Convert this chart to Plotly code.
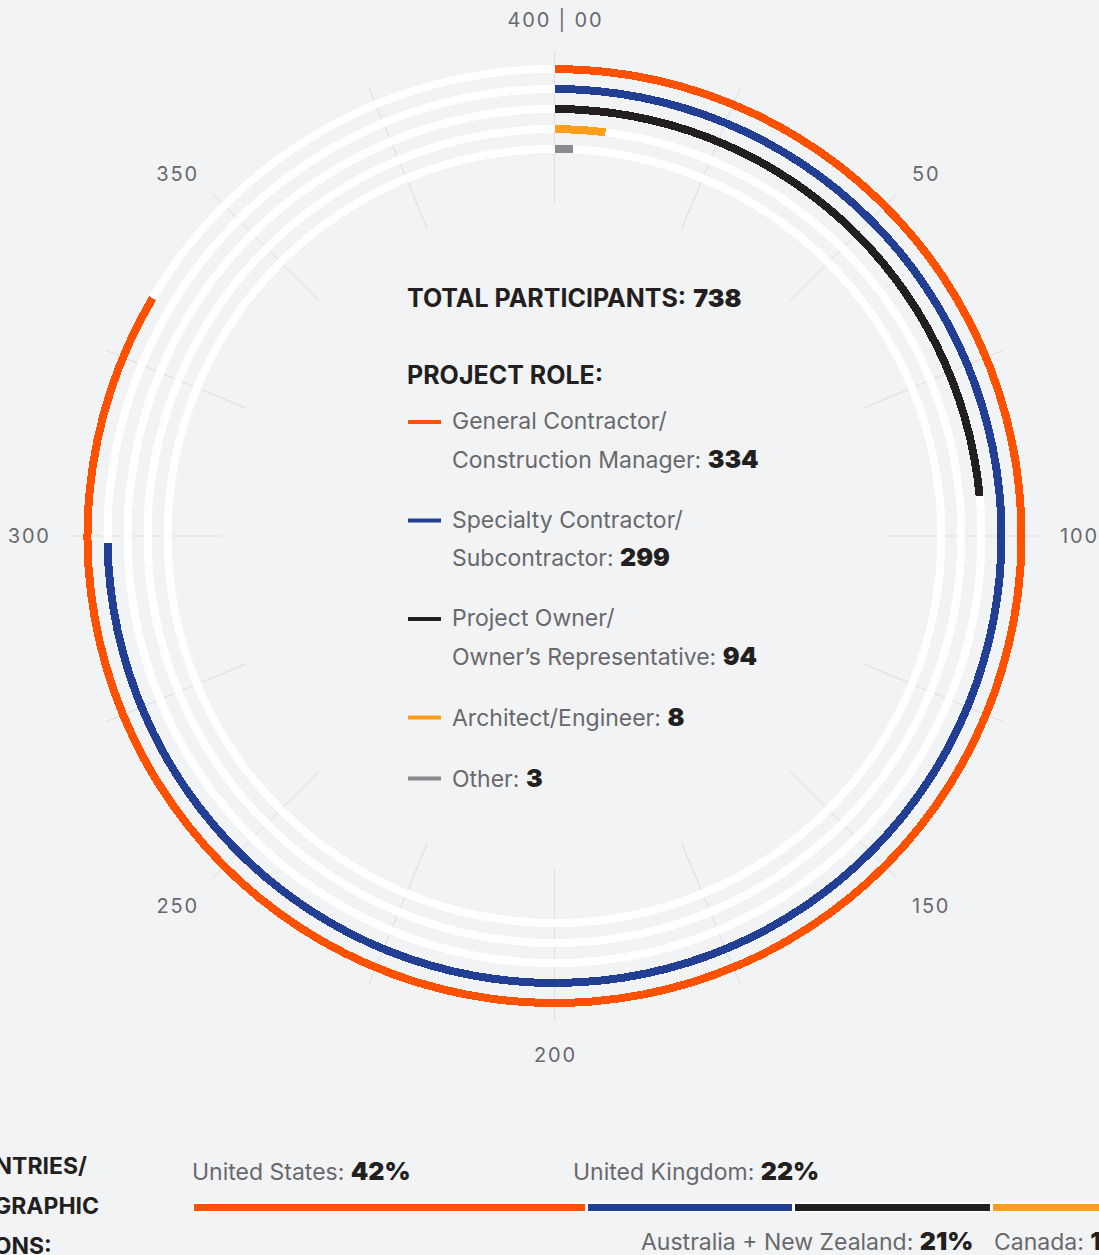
import plotly.graph_objects as go

W, H = 1099, 1255

# ---- data ----
SCALE_MAX = 400
total_participants = 738
role_lines = [
    ["General Contractor/", "Construction Manager"],
    ["Specialty Contractor/", "Subcontractor"],
    ["Project Owner/", "Owner\u2019s Representative"],
    ["Architect/Engineer"],
    ["Other"],
]
role_counts = [334, 299, 94, 8, 3]
role_colors = ["#ff5100", "#223f94", "#231f20", "#ff9e1b", "#898a8d"]

tick_values = list(range(0, 400, 25))
tick_labels = ["400 | 00", "", "50", "", "100", "", "150", "", "200", "", "250", "", "300", "", "350", ""]

countries = ["United States", "United Kingdom", "Australia + New Zealand", "Canada"]
country_shares = [42, 22, 21, 12]
country_colors = ["#ff5100", "#223f94", "#231f20", "#ff9e1b"]

BG = "#f2f3f5"
GREY_TXT = "#68696c"
DARK = "#231f20"
FONT = "Inter, Roboto, sans-serif"
TXT_SIZE = 23
HEAD_SIZE = 25
NUM_SIZE = 25


def px_x(x):
    return x / W


def px_y(y):
    return 1 - y / H


def spaced(s):
    # tracked-out tick labels
    return "\u200a".join(s)


def to_deg(v):
    return v * 360.0 / SCALE_MAX


fig = go.Figure()

# ring geometry (pixels from centre)
R_IN, R_OUT = 333, 485
ring_mid = [467, 447, 427, 407, 387]
BAR_W = 8

# white tracks
fig.add_trace(go.Barpolar(
    r=[BAR_W] * len(ring_mid),
    base=[m - BAR_W / 2 for m in ring_mid],
    theta=[180] * len(ring_mid),
    width=[360] * len(ring_mid),
    marker=dict(color="white", line=dict(width=0)),
    hoverinfo="skip",
    showlegend=False,
))

# role bars
for i, (cnt, col) in enumerate(zip(role_counts, role_colors)):
    d = to_deg(cnt)
    fig.add_trace(go.Barpolar(
        r=[BAR_W],
        base=[ring_mid[i] - BAR_W / 2],
        theta=[d / 2],
        width=[d],
        marker=dict(color=col, line=dict(width=0)),
        name=" ".join(role_lines[i]),
        showlegend=False,
    ))

# countries stacked bar
for name, share, col in zip(countries, country_shares, country_colors):
    fig.add_trace(go.Bar(
        x=[share], y=[0], orientation="h",
        marker=dict(color=col, line=dict(color="white", width=3)),
        width=1, name=name, showlegend=False,
        xaxis="x", yaxis="y",
    ))

PX_PER_PCT = 9.4
bar_x0 = 192

fig.update_layout(
    width=W, height=H,
    margin=dict(l=0, r=0, t=0, b=0),
    paper_bgcolor=BG,
    plot_bgcolor=BG,
    barmode="stack",
    font=dict(family=FONT, color=GREY_TXT),
    polar=dict(
        domain=dict(x=[69.5 / W, 1039.5 / W], y=[px_y(1021), px_y(51)]),
        bgcolor=BG,
        hole=R_IN / R_OUT,
        radialaxis=dict(range=[R_IN, R_OUT], visible=False, showgrid=False),
        angularaxis=dict(
            rotation=90, direction="clockwise",
            tickmode="array",
            tickvals=[to_deg(v) for v in tick_values],
            ticktext=[spaced(t) for t in tick_labels],
            showgrid=True, gridcolor="#dcdde0", gridwidth=1,
            showline=False,
            ticks="outside", ticklen=16, tickcolor="rgba(0,0,0,0)",
            tickfont=dict(size=20, color=GREY_TXT, family=FONT),
        ),
    ),
    xaxis=dict(domain=[px_x(bar_x0), 1], range=[0, (W - bar_x0) / PX_PER_PCT],
               visible=False, fixedrange=True),
    yaxis=dict(domain=[px_y(1212), px_y(1202)], range=[-0.5, 0.5],
               visible=False, fixedrange=True),
)

ann = []


def add_text(x, y, text, size=TXT_SIZE, color=GREY_TXT, anchor="left"):
    ann.append(dict(x=px_x(x), y=px_y(y), xref="paper", yref="paper",
                    text=text, showarrow=False, xanchor=anchor, yanchor="middle",
                    font=dict(size=size, color=color, family=FONT)))


def num(v):
    return (f'<span style="color:{DARK};font-weight:900;font-size:{NUM_SIZE}px">'
            f'{v}</span>')


# centre legend
add_text(405, 298, f"<b>TOTAL PARTICIPANTS:</b> {num(total_participants)}",
         size=HEAD_SIZE, color=DARK)
add_text(405, 375, "<b>PROJECT ROLE:</b>", size=HEAD_SIZE, color=DARK)

shapes = []
y = 421
for lines, cnt, col in zip(role_lines, role_counts, role_colors):
    shapes.append(dict(type="line", xref="paper", yref="paper",
                       x0=px_x(408), x1=px_x(441), y0=px_y(y + 1), y1=px_y(y + 1),
                       line=dict(color=col, width=4)))
    for j, ln in enumerate(lines):
        t = ln if j < len(lines) - 1 else f"{ln}: {num(cnt)}"
        add_text(450, y + 37.5 * j, t)
    y += 37.5 * (len(lines) - 1) + 61

# countries text
for i, line in enumerate(["COUNTRIES/", "GEOGRAPHIC", "REGIONS:"]):
    add_text([89, 101, 54][i], 1166 + 40 * i, f"<b>{line}</b>", color=DARK, anchor="right")

add_text(190, 1171, f"{countries[0]}: {num(str(country_shares[0]) + '%')}")
add_text(571, 1171, f"{countries[1]}: {num(str(country_shares[1]) + '%')}")
add_text(975, 1241, f"{countries[2]}: {num(str(country_shares[2]) + '%')}", anchor="right")
add_text(992, 1241, f"{countries[3]}: {num(str(country_shares[3]) + '%')}")

fig.update_layout(annotations=ann, shapes=shapes)

fig.write_html("out.html", config={"displayModeBar": False},
               post_script="document.body.style.margin='0';")
